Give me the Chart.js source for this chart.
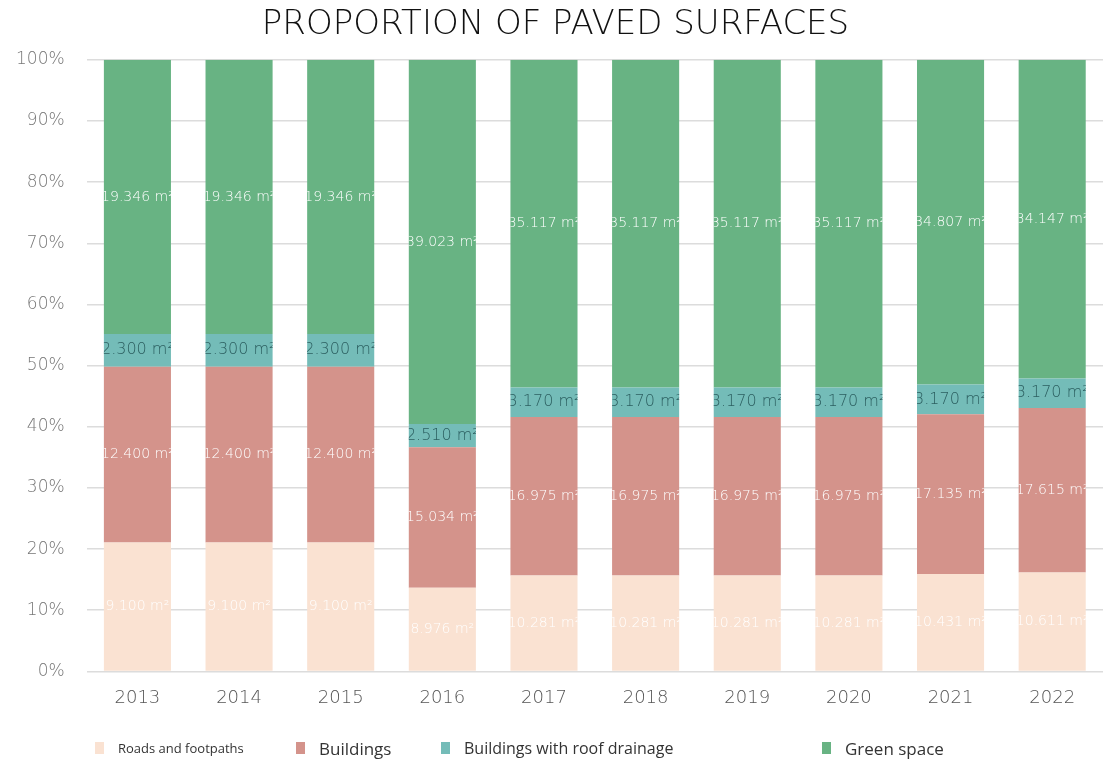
<!DOCTYPE html>
<html>
<head>
<meta charset="utf-8">
<script src="https://cdn.jsdelivr.net/npm/chart.js@4.4.1/dist/chart.umd.min.js"></script>
<style>
  html, body { margin: 0; padding: 0; background: #fff; }
  #wrap { position: relative; width: 1103px; height: 761px; }
  #legend { position: absolute; left: 0; top: 737px; width: 1103px; height: 24px;
            font-family: "Open Sans", sans-serif; color: #333; }
  .item { position: absolute; top: 0; display: flex; align-items: center; height: 22px; }
  .sw { width: 9px; height: 12px; margin-right: 14px; }
</style>
</head>
<body>
<div id="wrap">
  <canvas id="chart" width="1103" height="761"></canvas>
  <div id="legend"></div>
</div>
<script>
// areas in m² per year
const years = ["2013", "2014", "2015", "2016", "2017", "2018", "2019", "2020", "2021", "2022"];
const roads = [9100, 9100, 9100, 8976, 10281, 10281, 10281, 10281, 10431, 10611];
const buildings = [12400, 12400, 12400, 15034, 16975, 16975, 16975, 16975, 17135, 17615];
const roofDrainage = [2300, 2300, 2300, 2510, 3170, 3170, 3170, 3170, 3170, 3170];
const greenSpace = [19346, 19346, 19346, 39023, 35117, 35117, 35117, 35117, 34807, 34147];
const yTicks = [0, 10, 20, 30, 40, 50, 60, 70, 80, 90, 100];

const FONT = "DejaVu Sans";

const series = [
    { label: "Roads and footpaths", values: roads, color: "#fae2d2", text: "#ffffff", size: 14, legendSize: 13 },
    { label: "Buildings", values: buildings, color: "#d4938b", text: "#ffffff", size: 14, legendSize: 17 },
    { label: "Buildings with roof drainage", values: roofDrainage, color: "#74bcb8", text: "#2c5f60", size: 16, legendSize: 16 },
    { label: "Green space", values: greenSpace, color: "#68b383", text: "#ffffff", size: 14, legendSize: 17 },
];

const totals = years.map((y, i) => series.reduce((s, d) => s + d.values[i], 0));

function fmtArea(v) {
    return v.toString().replace(/\B(?=(\d{3})+(?!\d))/g, ".") + " m²";
}

// value labels, clipped to their bar segment
const segmentLabels = {
    id: "segmentLabels",
    afterDatasetsDraw(chart) {
        const ctx = chart.ctx;
        chart.data.datasets.forEach((ds, di) => {
            const meta = chart.getDatasetMeta(di);
            const s = series[di];
            meta.data.forEach((bar, i) => {
                const top = Math.min(bar.y, bar.base);
                const bottom = Math.max(bar.y, bar.base);
                const left = bar.x - bar.width / 2;
                ctx.save();
                ctx.beginPath();
                ctx.rect(left, top, bar.width, bottom - top);
                ctx.clip();
                ctx.fillStyle = s.text;
                ctx.font = `300 ${s.size}px "${FONT}", sans-serif`;
                ctx.textAlign = "center";
                ctx.textBaseline = "middle";
                ctx.fillText(fmtArea(s.values[i]), bar.x, (top + bottom) / 2);
                ctx.restore();
            });
        });
    }
};

new Chart(document.getElementById("chart"), {
    type: "bar",
    data: {
        labels: years,
        datasets: series.map(s => ({
            label: s.label,
            data: s.values.map((v, i) => v / totals[i] * 100),
            backgroundColor: s.color,
            borderWidth: 0,
            categoryPercentage: 1,
            barPercentage: 0.66,
        }))
    },
    options: {
        responsive: false,
        animation: false,
        layout: { padding: { left: 8, right: 0, top: 0, bottom: 44 } },
        plugins: {
            legend: { display: false },
            tooltip: { enabled: false },
            title: {
                display: true,
                text: "PROPORTION OF PAVED SURFACES",
                color: "#111",
                font: { family: FONT, size: 34, weight: 300 },
                padding: { top: 5, bottom: 14 },
            },
        },
        scales: {
            x: {
                stacked: true,
                grid: { display: false },
                border: { display: false },
                ticks: { color: "#555", font: { family: FONT, size: 18, weight: 300 }, padding: 8 },
            },
            y: {
                stacked: true,
                min: 0,
                max: 100,
                afterBuildTicks(axis) { axis.ticks = yTicks.map(v => ({ value: v })); },
                grid: { color: "#dcdcdc", tickColor: "rgba(0,0,0,0)", tickLength: 14, lineWidth: 1.5 },
                border: { display: false },
                ticks: {
                    color: "#777",
                    font: { family: FONT, size: 17, weight: 300 },
                    padding: 8,
                    callback: v => v + "%",
                },
            },
        },
    },
    plugins: [segmentLabels],
});

// legend row under the chart
const legendPos = [95, 296, 441, 822];
const legendEl = document.getElementById("legend");
series.forEach((s, i) => {
    const item = document.createElement("div");
    item.className = "item";
    item.style.left = legendPos[i] + "px";
    item.style.fontSize = s.legendSize + "px";
    const sw = document.createElement("span");
    sw.className = "sw";
    sw.style.background = s.color;
    const txt = document.createElement("span");
    txt.textContent = s.label;
    item.appendChild(sw);
    item.appendChild(txt);
    legendEl.appendChild(item);
});
</script>
</body>
</html>
